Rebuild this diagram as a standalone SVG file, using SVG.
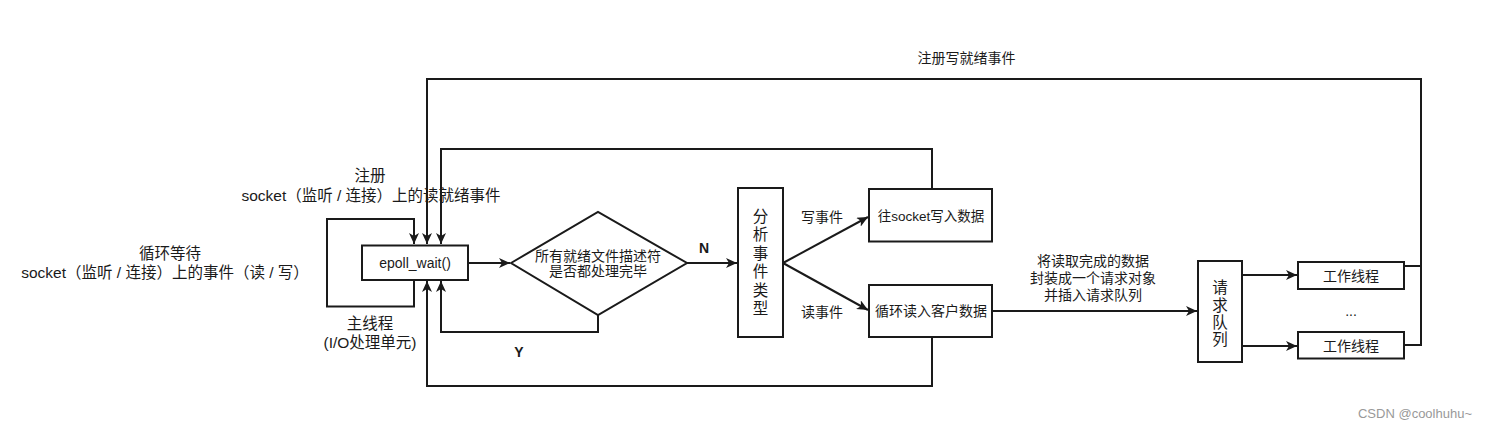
<svg xmlns="http://www.w3.org/2000/svg" width="1492" height="430" viewBox="0 0 1492 430">
<style>
text{font-family:"Liberation Sans","Noto Sans CJK SC",sans-serif;fill:#1a1a1a;dominant-baseline:central;text-anchor:middle}
.box{fill:#fff;stroke:#1a1a1a;stroke-width:2}
.ln{fill:none;stroke:#1a1a1a;stroke-width:2}
.arr{marker-end:url(#ah)}
.t14{font-size:14px}
.t15{font-size:15.5px}
.b{font-weight:bold;font-size:14px}
</style>
<defs>
<marker id="ah" markerUnits="userSpaceOnUse" markerWidth="12" markerHeight="10" refX="11" refY="5" orient="auto">
<path d="M0,0 L11,5 L0,10 L3,5 z" fill="#1a1a1a"/>
</marker>
</defs>
<rect width="1492" height="430" fill="#fff"/>
<g id="connectors">
<path class="ln arr" d="M414,280 V306.5 H327 V219 H414 V244"/>
<path class="ln arr" d="M1404,266 H1421 M1404,345 H1421 V79 H427 V244"/>
<path class="ln arr" d="M932,189 V149 H441 V244"/>
<path class="ln arr" d="M932,337 V386 H427 V281"/>
<path class="ln arr" d="M598,315 V332 H441 V281"/>
<path class="ln arr" d="M468,263 H510"/>
<path class="ln arr" d="M687,263 H737"/>
<path class="ln arr" d="M783,263 L868,217"/>
<path class="ln arr" d="M783,263 L868,310"/>
<path class="ln arr" d="M992,311 H1197"/>
<path class="ln arr" d="M1242,275 H1297"/>
<path class="ln arr" d="M1242,346 H1297"/>
</g>
<g id="epoll">
<rect class="box" x="362" y="245.5" width="106" height="34.5"/>
<text class="t14" x="415" y="263">epoll_wait()</text>
</g>
<g id="decision">
<polygon class="box" points="511,263 598,212 687,263 598,315"/>
<text class="t14" x="598" y="256">所有就绪文件描述符</text>
<text class="t14" x="598" y="271">是否都处理完毕</text>
</g>
<g id="analyze">
<rect class="box" x="738" y="188" width="45" height="149"/>
<text class="t15" x="760.5" y="216">分</text>
<text class="t15" x="760.5" y="234.5">析</text>
<text class="t15" x="760.5" y="253">事</text>
<text class="t15" x="760.5" y="271.5">件</text>
<text class="t15" x="760.5" y="290">类</text>
<text class="t15" x="760.5" y="308.5">型</text>
</g>
<g id="write">
<rect class="box" x="869" y="189" width="123" height="52.5"/>
<text x="931" y="216" style="font-size:13.5px">往socket写入数据</text>
</g>
<g id="read">
<rect class="box" x="869" y="285" width="123" height="52"/>
<text class="t14" x="931" y="311">循环读入客户数据</text>
</g>
<g id="queue">
<rect class="box" x="1198" y="261" width="44" height="101"/>
<text class="t15" x="1220" y="287">请</text>
<text class="t15" x="1220" y="305">求</text>
<text class="t15" x="1220" y="322">队</text>
<text class="t15" x="1220" y="339">列</text>
</g>
<g id="worker1">
<rect class="box" x="1298" y="262" width="106" height="27"/>
<text class="t14" x="1351" y="275.5">工作线程</text>
</g>
<g id="worker2">
<rect class="box" x="1298" y="332" width="106" height="26.5"/>
<text class="t14" x="1351" y="345.5">工作线程</text>
</g>
<g id="labels">
<text class="t14" x="966.5" y="58">注册写就绪事件</text>
<text class="t15" x="370" y="175">注册</text>
<text class="t15" x="371" y="195">socket（监听 / 连接）上的读就绪事件</text>
<text class="t15" x="170" y="253">循环等待</text>
<text class="t15" x="165" y="272">socket（监听 / 连接）上的事件（读 / 写）</text>
<text class="t15" x="370" y="323">主线程</text>
<text class="t15" x="370" y="342">(I/O处理单元)</text>
<text class="b" x="704" y="248">N</text>
<text class="b" x="519" y="352">Y</text>
<text class="t14" x="822" y="217">写事件</text>
<text class="t14" x="822" y="312">读事件</text>
<text class="t14" x="1093" y="261">将读取完成的数据</text>
<text class="t14" x="1093" y="278">封装成一个请求对象</text>
<text class="t14" x="1093" y="295">并插入请求队列</text>
<text class="t14" x="1351" y="311">...</text>
<text x="1415" y="413" style="font-size:13px;fill:#999">CSDN @coolhuhu~</text>
</g>
</svg>
